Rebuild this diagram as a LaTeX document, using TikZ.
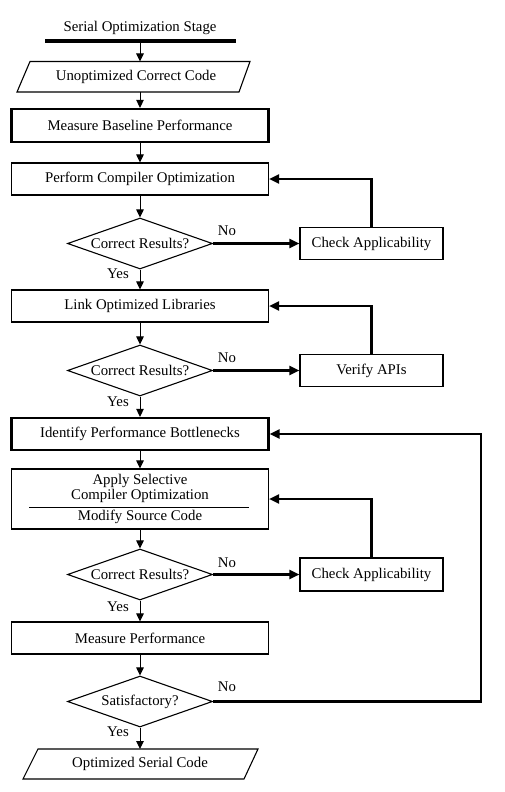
\documentclass[tikz,border=0pt]{standalone}
\usepackage{fontspec}
\setmainfont{Liberation Serif}
\usetikzlibrary{arrows.meta,shapes.geometric}
\begin{document}
\begin{tikzpicture}[x=1pt,y=-1pt,
  every node/.style={font=\fontsize{14.8}{15}\selectfont},
  thinbox/.style={draw,line width=1.1pt,minimum width=257pt,minimum height=32pt,inner sep=0pt},
  thickbox/.style={draw,line width=2.2pt,minimum width=257pt,minimum height=33pt,inner sep=0pt},
  sidebox/.style={draw,line width=1.1pt,minimum width=143pt,minimum height=32pt,inner sep=0pt},
  decision/.style={diamond,draw,line width=1.1pt,minimum width=145pt,minimum height=51pt,inner sep=0pt},
  flow/.style={line width=1pt,-{Triangle[length=8pt,width=7.5pt]}},
  fb/.style={line width=2.2pt,-{Triangle[length=10pt,width=9pt]}},
  lbl/.style={inner sep=0pt}
]
\useasboundingbox (0,0) rectangle (505,792);

% title and bar
\node (title) at (140,28) {Serial Optimization Stage};
\node[fill=black,minimum width=191pt,minimum height=4pt,inner sep=0pt] (bar) at (140,41) {};

% input parallelogram
\draw[line width=1.1pt] (30,61.5) -- (250,61.5) -- (239,92) -- (17,92) -- cycle;
\node (p1) at (136,77) {Unoptimized Correct Code};
\coordinate (p1n) at (140,61.5);
\coordinate (p1s) at (140,92);

\node[thickbox] (box1) at (140,125.5) {Measure Baseline Performance};
\node[thinbox] (box2) at (140,179) {Perform Compiler Optimization};
\node[decision] (d1) at (140,243.5) {\makebox[0pt]{Correct Results?}};
\node[sidebox] (ca1) at (371.5,243.5) {Check Applicability};

\node[thinbox] (box3) at (140,306) {Link Optimized Libraries};
\node[decision] (d2) at (140,370.5) {\makebox[0pt]{Correct Results?}};
\node[sidebox] (va) at (371.5,370.5) {Verify APIs};

\node[thickbox,minimum height=32pt] (box4) at (140,434) {Identify Performance Bottlenecks};
\node[thinbox,minimum height=60pt] (box5) at (140,499) {};
\node (t5a) at (140,481) {Apply Selective};
\node (t5b) at (140,496) {Compiler Optimization};
\node (t5c) at (140,517) {Modify Source Code};
\draw[line width=1pt] (29,507) -- (249,507);

\node[decision] (d3) at (140,574.5) {\makebox[0pt]{Correct Results?}};
\node[sidebox,minimum height=33pt] (ca2) at (371.5,574.5) {Check Applicability};
\node[thinbox] (box6) at (140,638) {Measure Performance};
\node[decision] (d4) at (140,701.5) {\makebox[0pt]{Satisfactory?}};

% output parallelogram
\draw[line width=1.1pt] (38,749) -- (258,749) -- (244,779) -- (23,779) -- cycle;
\node (p2) at (140,764) {Optimized Serial Code};
\coordinate (p2n) at (140,749);

% labels
\node[lbl] (n1) at (227,231) {No};
\node[lbl] (n2) at (227,358) {No};
\node[lbl] (n3) at (227,563) {No};
\node[lbl] (n4) at (227,687) {No};
\node[lbl] (y1) at (118,274) {Yes};
\node[lbl] (y2) at (118,402) {Yes};
\node[lbl] (y3) at (118,607) {Yes};
\node[lbl] (y4) at (118,732) {Yes};

% main flow
\draw[flow] (bar.south) -- (p1n);
\draw[flow] (p1s) -- (box1.north);
\draw[flow] (box1.south) -- (box2.north);
\draw[flow] (box2.south) -- (d1.north);
\draw[flow] (d1.south) -- (box3.north);
\draw[flow] (box3.south) -- (d2.north);
\draw[flow] (d2.south) -- (box4.north);
\draw[flow] (box4.south) -- (box5.north);
\draw[flow] (box5.south) -- (d3.north);
\draw[flow] (d3.south) -- (box6.north);
\draw[flow] (box6.south) -- (d4.north);
\draw[flow] (d4.south) -- (p2n);

% no branches and feedback
\draw[fb] (d1.east) -- (ca1.west);
\draw[fb] (ca1.north) |- (box2.east);
\draw[fb] (d2.east) -- (va.west);
\draw[fb] (va.north) |- (box3.east);
\draw[fb] (d3.east) -- (ca2.west);
\draw[fb] (ca2.north) |- (box5.east);
\coordinate (c4) at (481,701.5);
\draw[fb] (d4.east) -- (c4) |- (box4.east);
\end{tikzpicture}
\end{document}
